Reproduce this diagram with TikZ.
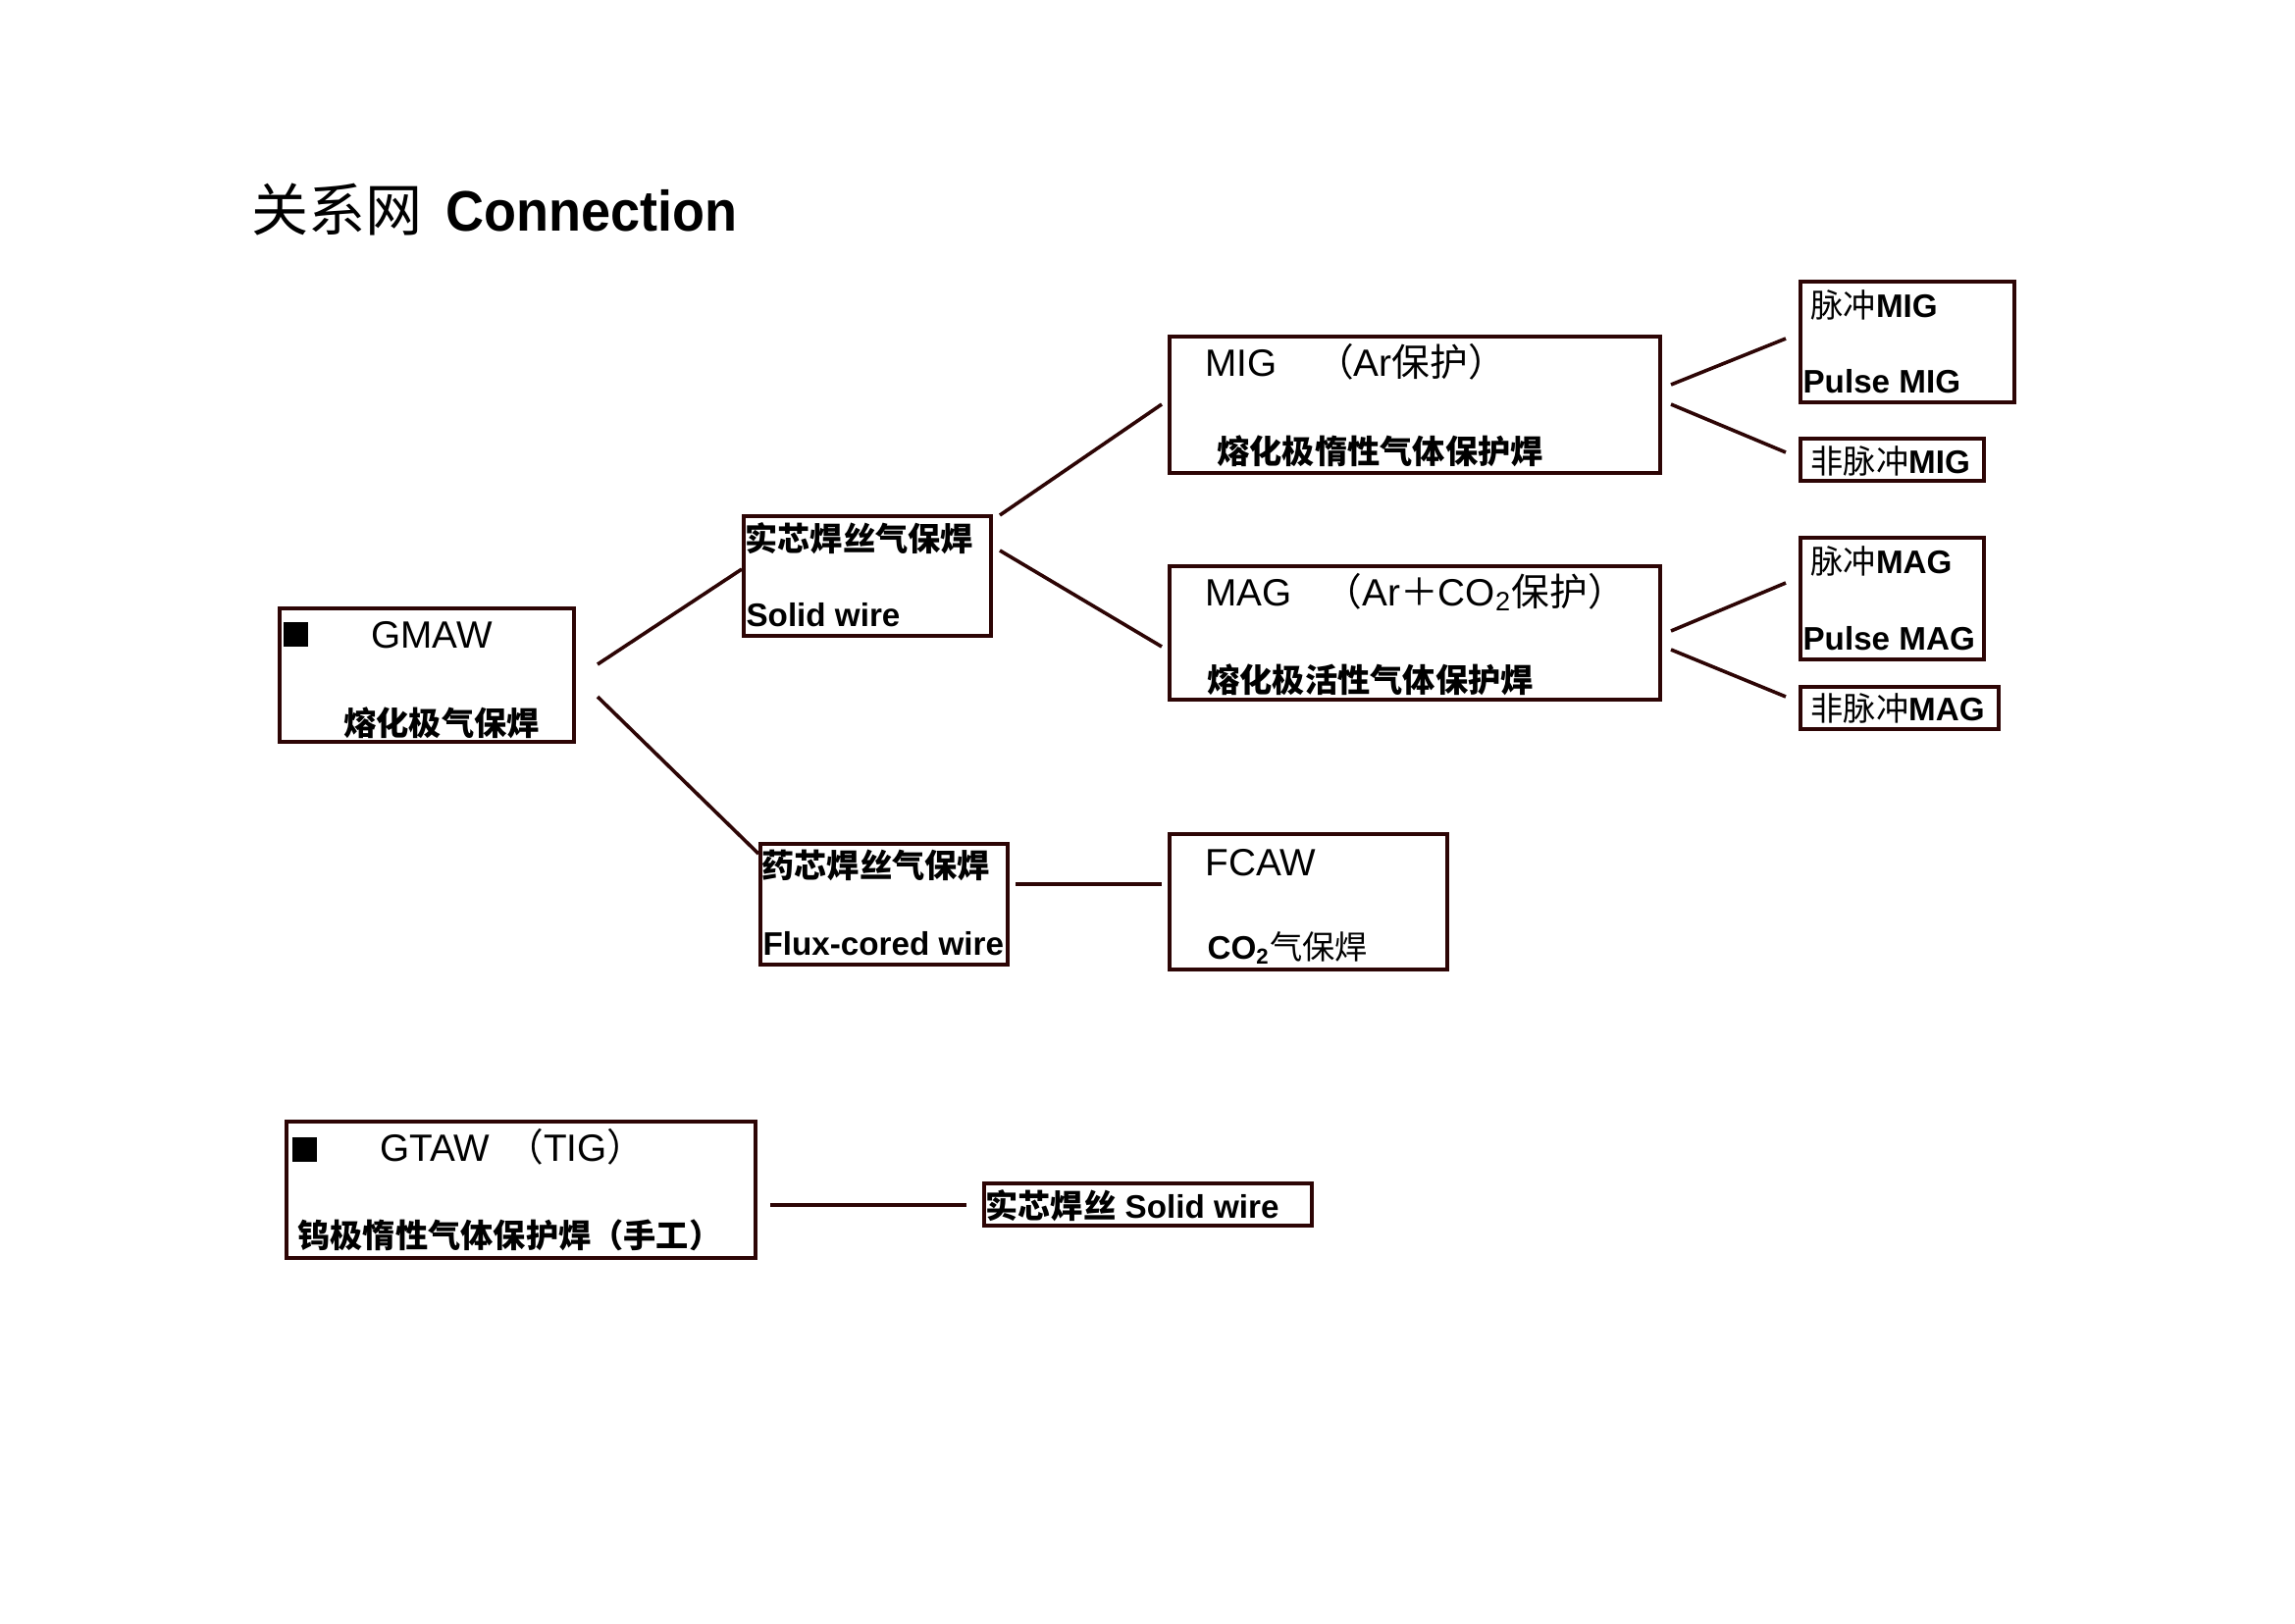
\documentclass[tikz,border=0pt]{standalone}
\usepackage{graphicx}
\usepackage{fontspec}
\setmainfont{Liberation Sans}
\newfontfamily\cjk{Noto Sans CJK SC}
\usetikzlibrary{fit}
\definecolor{bcol}{RGB}{45,5,5}
\newcommand\zh[1]{{\cjk #1}}
\begin{document}
\begin{tikzpicture}[x=0.127mm,y=-0.127mm,
  box/.style={draw=bcol,line width=1.5pt,inner sep=0pt},
  conn/.style={draw=bcol,line width=1.3pt},
  hdr/.style={font=\fontsize{14}{17}\selectfont,inner sep=0pt,anchor=base west},
  lbl/.style={font=\fontsize{12}{14}\selectfont\bfseries,inner sep=0pt,anchor=west},
  sq/.style={fill=black,inner sep=0pt,minimum size=25*0.127mm,anchor=north west}]
\useasboundingbox[fill=white] (0,0) rectangle (2339,1654);

% title
\node[anchor=west,inner sep=0pt,font=\fontsize{21}{25}\selectfont] (t1) at (256,213) {\zh{关系网}};
\node[anchor=west,inner sep=0pt,font=\fontsize{21}{25}\selectfont\bfseries] (t2) at (454,215) {\scalebox{0.93}[1]{Connection}};

% boxes
\node[box,fit={(285,620)(585,756)}] (gmaw) {};
\node[box,fit={(758,526)(1010,648)}] (solid) {};
\node[box,fit={(1192,343)(1692,482)}] (mig) {};
\node[box,fit={(1192,577)(1692,713)}] (mag) {};
\node[box,fit={(1835,287)(2053,410)}] (pmig) {};
\node[box,fit={(1835,447)(2022,490)}] (npmig) {};
\node[box,fit={(1835,548)(2022,672)}] (pmag) {};
\node[box,fit={(1835,700)(2037,743)}] (npmag) {};
\node[box,fit={(775,860)(1027,983)}] (flux) {};
\node[box,fit={(1192,850)(1475,988)}] (fcaw) {};
\node[box,fit={(292,1143)(770,1282)}] (gtaw) {};
\node[box,fit={(1003,1206)(1337,1249)}] (sw) {};

% GMAW
\node[sq] (gmawsq) at (288,633) {};
\node[hdr] (gmawA) at (378,660) {GMAW};
\node[lbl] (gmawB) at (350,737) {\zh{熔化极气保焊}};

% solid wire
\node[lbl] (solidA) at (759,549) {\zh{实芯焊丝气保焊}};
\node[lbl] (solidB) at (760,627) {Solid wire};

% MIG
\node[hdr] (migA) at (1228,383) {MIG\hspace{14.2pt}\zh{（}Ar\zh{保护）}};
\node[lbl] (migB) at (1240,460) {\zh{熔化极惰性气体保护焊}};

% MAG
\node[hdr] (magA) at (1228,617) {MAG\hspace{11.9pt}\zh{（}Ar\zh{＋}CO\textsubscript{2}\zh{保护）}};
\node[lbl] (magB) at (1230,693) {\zh{熔化极活性气体保护焊}};

% pulse boxes
\node[lbl] (pmigA) at (1845,311) {\zh{\mdseries 脉冲}MIG};
\node[lbl] (pmigB) at (1837,389) {Pulse MIG};
\node[lbl] (npmigA) at (1845,470) {\zh{\mdseries 非脉冲}MIG};
\node[lbl] (pmagA) at (1845,572) {\zh{\mdseries 脉冲}MAG};
\node[lbl] (pmagB) at (1837,651) {Pulse MAG};
\node[lbl] (npmagA) at (1845,722) {\zh{\mdseries 非脉冲}MAG};

% flux cored
\node[lbl] (fluxA) at (776,882) {\zh{药芯焊丝气保焊}};
\node[lbl] (fluxB) at (777,962) {Flux-cored wire};

% FCAW
\node[hdr] (fcawA) at (1228,892) {FCAW};
\node[lbl,anchor=base west] (fcawB) at (1230,977) {CO\textsubscript{2}\zh{\mdseries 气保焊}};

% GTAW
\node[sq] (gtawsq) at (297,1158) {};
\node[hdr] (gtawA) at (387,1183) {GTAW\hspace{5.8pt}\zh{（}TIG\zh{）}};
\node[lbl] (gtawB) at (303,1259) {\zh{钨极惰性气体保护焊（手工）}};

% small solid wire
\node[lbl] (swA) at (1004,1229) {\zh{实芯焊丝} Solid wire};

% connectors
\coordinate (a1) at (609,677);   \coordinate (a2) at (756,580);
\coordinate (b1) at (609,710);   \coordinate (b2) at (773,870);
\coordinate (c1) at (1019,525);  \coordinate (c2) at (1184,412);
\coordinate (d1) at (1019,561);  \coordinate (d2) at (1184,659);
\coordinate (e1) at (1703,392);  \coordinate (e2) at (1820,345);
\coordinate (f1) at (1703,412);  \coordinate (f2) at (1820,461);
\coordinate (g1) at (1703,643);  \coordinate (g2) at (1820,594);
\coordinate (h1) at (1703,662);  \coordinate (h2) at (1820,710);
\coordinate (i1) at (1035,901);  \coordinate (i2) at (1184,901);
\coordinate (j1) at (785,1228);  \coordinate (j2) at (985,1228);
\draw[conn] (a1) -- (a2);
\draw[conn] (b1) -- (b2);
\draw[conn] (c1) -- (c2);
\draw[conn] (d1) -- (d2);
\draw[conn] (e1) -- (e2);
\draw[conn] (f1) -- (f2);
\draw[conn] (g1) -- (g2);
\draw[conn] (h1) -- (h2);
\draw[conn] (i1) -- (i2);
\draw[conn] (j1) -- (j2);
\end{tikzpicture}
\end{document}
